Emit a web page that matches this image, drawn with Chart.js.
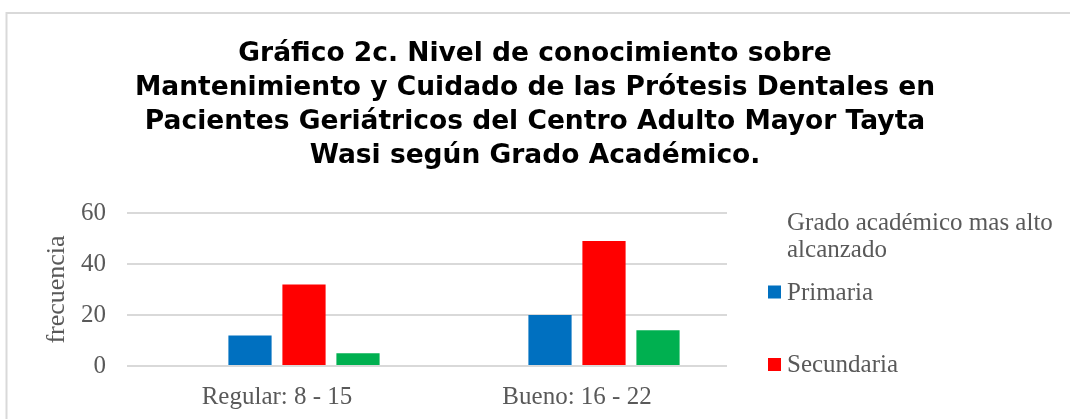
<!DOCTYPE html>
<html>
<head>
<meta charset="utf-8">
<script src="https://cdn.jsdelivr.net/npm/chart.js@4"></script>
<style>
    body { margin: 0; overflow: hidden; background: #fff; }
    #wrap { position: absolute; left: 0; top: 0; width: 1070px; height: 480px; }
</style>
</head>
<body>
<div id="wrap"><canvas id="chart"></canvas></div>
<script>
const categories = ['Regular: 8 - 15', 'Bueno: 16 - 22'];
const seriesNames = ['Sin estudios', 'Primaria', 'Secundaria', 'Superior'];
const sinEstudios = [0, 0];
const primaria = [12, 20];
const secundaria = [32, 49];
const superior = [5, 14];
const yTicks = [0, 20, 40, 60];

const titleLines = [
    'Gráfico 2c. Nivel de conocimiento sobre',
    'Mantenimiento y Cuidado de las Prótesis Dentales en',
    'Pacientes Geriátricos del Centro Adulto Mayor Tayta',
    'Wasi según Grado Académico.'
];
const legendTitle = ['Grado académico mas alto', 'alcanzado'];

const grey = '#595959';
const serif = "'Liberation Serif', 'Times New Roman', serif";

// outer frame of the chart
const framePlugin = {
    id: 'frame',
    beforeDraw(c) {
        const ctx = c.ctx;
        ctx.save();
        ctx.fillStyle = '#fff';
        ctx.fillRect(0, 0, c.width, c.height);
        ctx.strokeStyle = '#d9d9d9';
        ctx.lineWidth = 2;
        ctx.strokeRect(6.5, 13, 1200, 1000);
        ctx.restore();
    }
};

// legend on the right, like the excel one
const sideLegend = {
    id: 'sideLegend',
    afterDraw(c) {
        const ctx = c.ctx;
        ctx.save();
        ctx.font = '25px ' + serif;
        ctx.fillStyle = grey;
        ctx.textBaseline = 'middle';
        ctx.textAlign = 'left';
        legendTitle.forEach((t, i) => ctx.fillText(t, 787, 223 + i * 27));

        let y = 292;
        c.data.datasets.forEach(ds => {
            if (ds.inLegend === false) return;
            ctx.fillStyle = ds.backgroundColor;
            ctx.fillRect(768, y - 6.5, 13, 13);
            ctx.fillStyle = grey;
            ctx.fillText(ds.label, 787, y + 1);
            y += 72.5;
        });
        ctx.restore();
    }
};

const chart = document.querySelector('#chart').getContext('2d');

new Chart(chart, {
    type: 'bar',
    data: {
        labels: categories,
        datasets: [
            { label: seriesNames[0], data: sinEstudios, backgroundColor: '#a5a5a5', inLegend: false },
            { label: seriesNames[1], data: primaria, backgroundColor: '#0070c0' },
            { label: seriesNames[2], data: secundaria, backgroundColor: '#ff0000' },
            { label: seriesNames[3], data: superior, backgroundColor: '#00b050' }
        ]
    },
    options: {
        responsive: true,
        maintainAspectRatio: false,
        animation: false,
        categoryPercentage: 0.72,
        barPercentage: 0.8,
        layout: { padding: { top: 0, left: 0, right: 0, bottom: 68 } },
        plugins: {
            legend: { display: false },
            tooltip: { enabled: false },
            title: {
                display: true,
                text: titleLines,
                color: '#000',
                font: { family: "'DejaVu Sans', Arial, sans-serif", size: 26.5, weight: 'bold', lineHeight: 1.283 },
                padding: { top: 37.5, bottom: 39.5 }
            }
        },
        scales: {
            x: {
                afterFit: s => { s.height = 46; },
                grid: { display: false, drawTicks: false },
                border: { display: false },
                ticks: { color: grey, font: { family: serif, size: 25 }, padding: 16 }
            },
            y: {
                min: 0,
                max: 60,
                afterBuildTicks: s => { s.ticks = yTicks.map(v => ({ value: v })); },
                afterFit: s => { s.width = 127; },
                grid: { color: '#d9d9d9', lineWidth: 2, drawTicks: false },
                border: { display: false },
                ticks: { color: grey, font: { family: serif, size: 25 }, padding: 21 },
                title: {
                    display: true,
                    text: 'frecuencia',
                    color: grey,
                    font: { family: serif, size: 26 },
                    padding: { top: 41.5, bottom: 0 }
                }
            },
            // empty axis that only keeps room for the legend
            side: {
                type: 'linear',
                position: 'right',
                grid: { display: false },
                border: { display: false },
                ticks: { display: false },
                afterFit: s => { s.width = 343; }
            }
        }
    },
    plugins: [framePlugin, sideLegend]
});
</script>
</body>
</html>
